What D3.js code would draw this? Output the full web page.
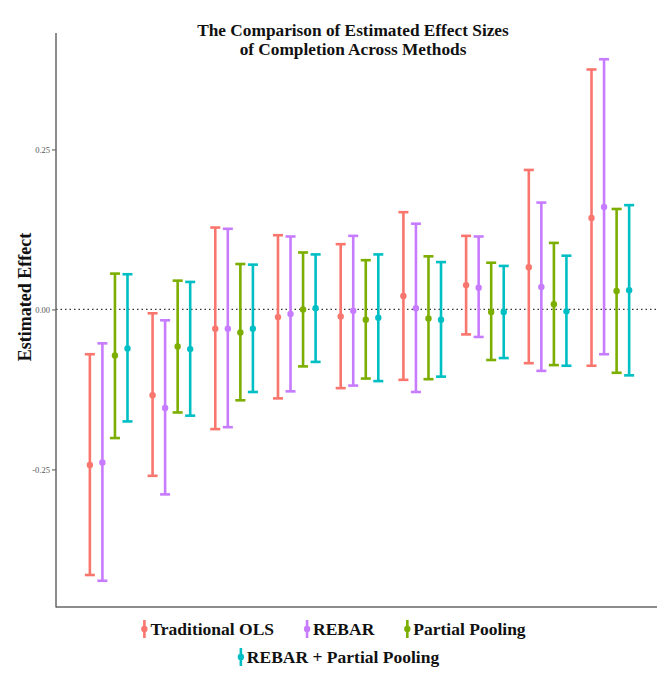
<!DOCTYPE html>
<html>
<head>
<meta charset="utf-8">
<script src="https://cdn.jsdelivr.net/npm/d3@7/dist/d3.min.js"></script>
<style>
  html, body { margin: 0; padding: 0; background: #fff; }
  svg { display: block; }
</style>
</head>
<body>
<script>
// ---- Data ----
const groups = [1, 2, 3, 4, 5, 6, 7, 8, 9];
const methods = ["Traditional OLS", "REBAR", "Partial Pooling", "REBAR + Partial Pooling"];
const colors = ["#F8766D", "#C77CFF", "#7CAE00", "#00BFC4"];

const olsEst = [-0.243, -0.134, -0.030, -0.012, -0.011, 0.021, 0.038, 0.066, 0.143];
const olsLo  = [-0.415, -0.260, -0.187, -0.139, -0.123, -0.110, -0.039, -0.084, -0.088];
const olsHi  = [-0.070, -0.006, 0.128, 0.116, 0.102, 0.152, 0.115, 0.218, 0.375];

const rebarEst = [-0.239, -0.154, -0.030, -0.007, -0.002, 0.002, 0.034, 0.035, 0.160];
const rebarLo  = [-0.424, -0.289, -0.184, -0.128, -0.119, -0.129, -0.043, -0.096, -0.070];
const rebarHi  = [-0.053, -0.017, 0.126, 0.114, 0.115, 0.134, 0.114, 0.167, 0.391];

const ppEst = [-0.072, -0.058, -0.036, 0.000, -0.016, -0.014, -0.004, 0.008, 0.029];
const ppLo  = [-0.201, -0.161, -0.142, -0.089, -0.108, -0.109, -0.079, -0.087, -0.099];
const ppHi  = [0.056, 0.045, 0.071, 0.089, 0.077, 0.083, 0.073, 0.104, 0.157];

const rppEst = [-0.061, -0.062, -0.030, 0.002, -0.013, -0.016, -0.004, -0.003, 0.030];
const rppLo  = [-0.175, -0.166, -0.129, -0.082, -0.112, -0.105, -0.076, -0.088, -0.103];
const rppHi  = [0.055, 0.043, 0.070, 0.086, 0.086, 0.074, 0.068, 0.084, 0.163];

const yTicks = [-0.25, 0, 0.25];
const yTickLabels = ["-0.25", "0.00", "0.25"];

const titleLines = ["The Comparison of Estimated Effect Sizes", "of Completion Across Methods"];
const yTitle = "Estimated Effect";

// ---- Build table ----
const series = [
  { est: olsEst, lo: olsLo, hi: olsHi },
  { est: rebarEst, lo: rebarLo, hi: rebarHi },
  { est: ppEst, lo: ppLo, hi: ppHi },
  { est: rppEst, lo: rppLo, hi: rppHi }
];
const rows = [];
series.forEach((s, m) => {
  groups.forEach((g, i) => {
    rows.push({ group: g, m, est: s.est[i], lo: s.lo[i], hi: s.hi[i] });
  });
});

// ---- Layout ----
const W = 657, H = 673;
const padL = 56, padT = 33, padB = 607;
const font = "'Liberation Serif', 'Times New Roman', serif";

const svg = d3.select("body").append("svg").attr("width", W).attr("height", H);

const x = d3.scaleLinear().domain([0.16, 9.84]).range([padL, 663]);
const y = d3.scaleLinear().domain([-0.465, 0.432]).range([padB, padT]);
const dodge = d3.scaleLinear().domain([0, 3]).range([-0.3, 0.3]);
const color = d3.scaleOrdinal().domain(d3.range(4)).range(colors);
const capHalf = 0.08;

// zero reference line
svg.append("line")
  .attr("x1", padL).attr("x2", W)
  .attr("y1", y(0)).attr("y2", y(0))
  .attr("stroke", "#333").attr("stroke-width", 1.2)
  .attr("stroke-dasharray", "1.5,3");

// error bars
const eb = svg.append("g").selectAll("g").data(rows).join("g")
  .attr("stroke", d => color(d.m))
  .attr("fill", d => color(d.m));
eb.append("line")
  .attr("x1", d => x(d.group + dodge(d.m))).attr("x2", d => x(d.group + dodge(d.m)))
  .attr("y1", d => y(d.lo)).attr("y2", d => y(d.hi))
  .attr("stroke-width", 2.6);
eb.append("line")
  .attr("x1", d => x(d.group + dodge(d.m) - capHalf)).attr("x2", d => x(d.group + dodge(d.m) + capHalf))
  .attr("y1", d => y(d.hi)).attr("y2", d => y(d.hi))
  .attr("stroke-width", 2.6);
eb.append("line")
  .attr("x1", d => x(d.group + dodge(d.m) - capHalf)).attr("x2", d => x(d.group + dodge(d.m) + capHalf))
  .attr("y1", d => y(d.lo)).attr("y2", d => y(d.lo))
  .attr("stroke-width", 2.6);
eb.append("circle")
  .attr("cx", d => x(d.group + dodge(d.m)))
  .attr("cy", d => y(d.est))
  .attr("r", 3.2).attr("stroke", "none");

// y axis
const yAxis = d3.axisLeft(y).tickValues(yTicks)
  .tickFormat((d, i) => yTickLabels[i]).tickSize(4).tickPadding(2);
const yg = svg.append("g").attr("transform", `translate(${padL},0)`).call(yAxis);
yg.select(".domain").remove();
yg.selectAll(".tick line").attr("stroke", "#555").attr("stroke-width", 1);
yg.selectAll(".tick text").attr("fill", "#555").attr("font-family", font).attr("font-size", 8.5);

// axis lines
svg.append("line").attr("x1", padL).attr("x2", padL).attr("y1", padT).attr("y2", padB + 0.5)
  .attr("stroke", "#666").attr("stroke-width", 1.5);
svg.append("line").attr("x1", padL).attr("x2", W).attr("y1", padB).attr("y2", padB)
  .attr("stroke", "#666").attr("stroke-width", 1.5);

// title
svg.append("text")
  .attr("x", 353).attr("y", 36)
  .attr("text-anchor", "middle")
  .attr("font-family", font).attr("font-weight", "bold").attr("font-size", 17.3)
  .attr("fill", "#111")
  .selectAll("tspan").data(titleLines).join("tspan")
  .attr("x", 353).attr("dy", (d, i) => i === 0 ? 0 : 18.5)
  .text(d => d);

// y title
svg.append("text")
  .attr("transform", `translate(31,${(y.range()[0] + y.range()[1]) / 2 - 23}) rotate(-90)`)
  .attr("text-anchor", "middle")
  .attr("font-family", font).attr("font-weight", "bold").attr("font-size", 18)
  .attr("fill", "#111")
  .text(yTitle);

// legend
const legendRows = [[0, 1, 2], [3]];
const legendY = [629, 657];
const legendCenter = [335, 340];
const gap = 33;
const lg = svg.append("g");
legendRows.forEach((rowIdx, r) => {
  const items = rowIdx.map(m => {
    const g = lg.append("g");
    g.append("line").attr("x1", 0).attr("x2", 0).attr("y1", -9).attr("y2", 9)
      .attr("stroke", color(m)).attr("stroke-width", 2.6);
    g.append("circle").attr("cx", 0).attr("cy", 0).attr("r", 3.2).attr("fill", color(m));
    const t = g.append("text").attr("x", 6).attr("y", 5.8)
      .attr("font-family", font).attr("font-weight", "bold").attr("font-size", 17.5)
      .attr("fill", "#111").text(methods[m]);
    const w = t.node().getComputedTextLength();
    return { g, w: 6 + w };
  });
  const total = d3.sum(items, d => d.w) + gap * (items.length - 1);
  let cx = legendCenter[r] - total / 2;
  items.forEach(it => {
    it.g.attr("transform", `translate(${cx},${legendY[r]})`);
    cx += it.w + gap;
  });
});
</script>
</body>
</html>
